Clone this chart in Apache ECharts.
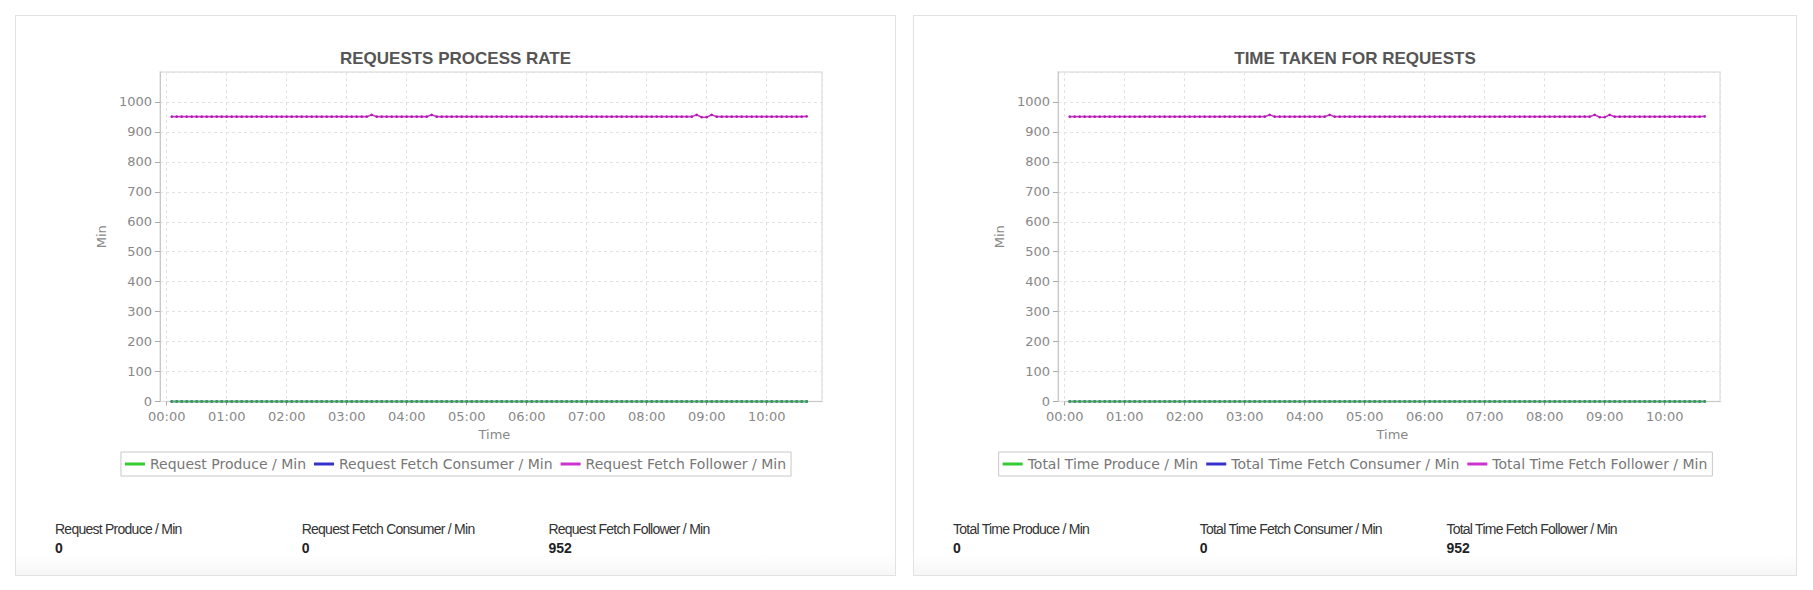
<!DOCTYPE html>
<html>
<head>
<meta charset="utf-8">
<script src="https://cdn.jsdelivr.net/npm/echarts@6.0.0/dist/echarts.min.js"></script>
<style>
  html, body { margin: 0; padding: 0; background: #ffffff; width: 1813px; height: 590px; overflow: hidden; }
  .panel { position: absolute; box-sizing: border-box; border: 1px solid #e2e2e2;
           background: linear-gradient(to bottom, #ffffff 0px, #ffffff 538px, #f6f6f6 559px); }
  .chart { position: absolute; }
  .stat { position: absolute; font-family: "Liberation Sans", Arial, sans-serif; font-size: 14px;
          line-height: 16px; letter-spacing: -0.75px; color: #333; white-space: nowrap; }
  .stat b { display: block; margin-top: 3px; color: #222; letter-spacing: 0; }
</style>
</head>
<body>
<div class="panel" style="left:15px;top:15px;width:881px;height:561px;"></div>
<div class="panel" style="left:913px;top:15px;width:884px;height:561px;"></div>
<div id="c1" class="chart" style="left:15px;top:15px;width:881px;height:490px;"></div>
<div id="c2" class="chart" style="left:913px;top:15px;width:884px;height:490px;"></div>
<div id="s1"></div>
<div id="s2"></div>
<script>
// ---- time stamps (x) ----
const timeLabels = [
  "00:05","00:10","00:15","00:20","00:25","00:30","00:35","00:40","00:45","00:50","00:55",
  "01:00","01:05","01:10","01:15","01:20","01:25","01:30","01:35","01:40","01:45","01:50","01:55",
  "02:00","02:05","02:10","02:15","02:20","02:25","02:30","02:35","02:40","02:45","02:50","02:55",
  "03:00","03:05","03:10","03:15","03:20","03:25","03:30","03:35","03:40","03:45","03:50","03:55",
  "04:00","04:05","04:10","04:15","04:20","04:25","04:30","04:35","04:40","04:45","04:50","04:55",
  "05:00","05:05","05:10","05:15","05:20","05:25","05:30","05:35","05:40","05:45","05:50","05:55",
  "06:00","06:05","06:10","06:15","06:20","06:25","06:30","06:35","06:40","06:45","06:50","06:55",
  "07:00","07:05","07:10","07:15","07:20","07:25","07:30","07:35","07:40","07:45","07:50","07:55",
  "08:00","08:05","08:10","08:15","08:20","08:25","08:30","08:35","08:40","08:45","08:50","08:55",
  "09:00","09:05","09:10","09:15","09:20","09:25","09:30","09:35","09:40","09:45","09:50","09:55",
  "10:00","10:05","10:10","10:15","10:20","10:25","10:30","10:35","10:40"
];

// ---- chart 1: Requests process rate ----
const requestProducePerMin = [
  0,0,0,0,0,0,0,0,0,0,0,0,0,0,0,0,
  0,0,0,0,0,0,0,0,0,0,0,0,0,0,0,0,
  0,0,0,0,0,0,0,0,0,0,0,0,0,0,0,0,
  0,0,0,0,0,0,0,0,0,0,0,0,0,0,0,0,
  0,0,0,0,0,0,0,0,0,0,0,0,0,0,0,0,
  0,0,0,0,0,0,0,0,0,0,0,0,0,0,0,0,
  0,0,0,0,0,0,0,0,0,0,0,0,0,0,0,0,
  0,0,0,0,0,0,0,0,0,0,0,0,0,0,0,0
];
const requestFetchConsumerPerMin = [
  0,0,0,0,0,0,0,0,0,0,0,0,0,0,0,0,
  0,0,0,0,0,0,0,0,0,0,0,0,0,0,0,0,
  0,0,0,0,0,0,0,0,0,0,0,0,0,0,0,0,
  0,0,0,0,0,0,0,0,0,0,0,0,0,0,0,0,
  0,0,0,0,0,0,0,0,0,0,0,0,0,0,0,0,
  0,0,0,0,0,0,0,0,0,0,0,0,0,0,0,0,
  0,0,0,0,0,0,0,0,0,0,0,0,0,0,0,0,
  0,0,0,0,0,0,0,0,0,0,0,0,0,0,0,0
];
const requestFetchFollowerPerMin = [
  951,951,951,951,951,951,951,951,951,951,951,951,951,951,951,951,
  951,951,951,951,951,951,951,951,951,951,951,951,951,951,951,951,
  951,951,951,951,951,951,951,951,957,951,951,951,951,951,951,951,
  951,951,951,951,957,951,951,951,951,951,951,951,951,951,951,951,
  951,951,951,951,951,951,951,951,951,951,951,951,951,951,951,951,
  951,951,951,951,951,951,951,951,951,951,951,951,951,951,951,951,
  951,951,951,951,951,951,951,951,951,957,949,949,957,951,951,951,
  951,951,951,951,951,951,951,951,951,951,951,951,951,951,951,952
];

// ---- chart 2: Time taken for requests ----
const totalTimeProducePerMin = [
  0,0,0,0,0,0,0,0,0,0,0,0,0,0,0,0,
  0,0,0,0,0,0,0,0,0,0,0,0,0,0,0,0,
  0,0,0,0,0,0,0,0,0,0,0,0,0,0,0,0,
  0,0,0,0,0,0,0,0,0,0,0,0,0,0,0,0,
  0,0,0,0,0,0,0,0,0,0,0,0,0,0,0,0,
  0,0,0,0,0,0,0,0,0,0,0,0,0,0,0,0,
  0,0,0,0,0,0,0,0,0,0,0,0,0,0,0,0,
  0,0,0,0,0,0,0,0,0,0,0,0,0,0,0,0
];
const totalTimeFetchConsumerPerMin = [
  0,0,0,0,0,0,0,0,0,0,0,0,0,0,0,0,
  0,0,0,0,0,0,0,0,0,0,0,0,0,0,0,0,
  0,0,0,0,0,0,0,0,0,0,0,0,0,0,0,0,
  0,0,0,0,0,0,0,0,0,0,0,0,0,0,0,0,
  0,0,0,0,0,0,0,0,0,0,0,0,0,0,0,0,
  0,0,0,0,0,0,0,0,0,0,0,0,0,0,0,0,
  0,0,0,0,0,0,0,0,0,0,0,0,0,0,0,0,
  0,0,0,0,0,0,0,0,0,0,0,0,0,0,0,0
];
const totalTimeFetchFollowerPerMin = [
  951,951,951,951,951,951,951,951,951,951,951,951,951,951,951,951,
  951,951,951,951,951,951,951,951,951,951,951,951,951,951,951,951,
  951,951,951,951,951,951,951,951,957,951,951,951,951,951,951,951,
  951,951,951,951,957,951,951,951,951,951,951,951,951,951,951,951,
  951,951,951,951,951,951,951,951,951,951,951,951,951,951,951,951,
  951,951,951,951,951,951,951,951,951,951,951,951,951,951,951,951,
  951,951,951,951,951,951,951,951,951,957,949,949,957,951,951,951,
  951,951,951,951,951,951,951,951,951,951,951,951,951,951,951,952
];

// ---- axis settings ----
const yAxisMax = 1100;
const yAxisStep = 100;
const xAxisEndMinutes = 655.5;   // plot extends a little past the last sample
const xAxisStepMinutes = 60;

const seriesColors = ['#33cc33', '#3333cc', '#cc33cc'];
const lineColors = ['#48b855', '#3f3fc0', '#cc33cc'];
const dotColors = ['#3c9e55', '#2f2fa8', '#b01cb0'];

function toMinutes(t) { const p = t.split(':'); return (+p[0]) * 60 + (+p[1]); }
function fmtMinutes(v) {
  const h = Math.floor(v / 60), m = Math.round(v % 60);
  return String(h).padStart(2, '0') + ':' + String(m).padStart(2, '0');
}
const xMinutes = timeLabels.map(toMinutes);

const AXIS_FONT = { fontFamily: 'DejaVu Sans', fontSize: 13, color: '#888' };

function buildOption(title, names, arrays) {
  const series = names.map((n, i) => ({
    name: n,
    type: 'line',
    xAxisIndex: 1,
    yAxisIndex: 1,
    data: xMinutes.map((x, k) => ({ value: [x, arrays[i][k]], itemStyle: { color: dotColors[i] } })),
    symbol: 'circle',
    symbolSize: 2.6,
    showSymbol: true,
    itemStyle: { color: seriesColors[i] },
    lineStyle: { color: lineColors[i], width: 1.6 },
    z: i === 0 ? 4 : (i === 1 ? 3 : 5),
    emphasis: { disabled: true },
    animation: false,
    silent: true,
    clip: false
  }));
  return {
    animation: false,
    title: {
      text: title, left: 'center', top: 30,
      textStyle: { fontFamily: 'Liberation Sans', fontWeight: 'bold', fontSize: 17, color: '#555' }
    },
    legend: {
      data: names.map((n, i) => ({ name: n, itemStyle: { color: seriesColors[i] } })),
      left: 'center', top: 437,
      orient: 'horizontal',
      borderColor: '#c8c8c8', borderWidth: 1,
      padding: [5, 5, 5, 4],
      itemGap: 8, itemWidth: 20, itemHeight: 3,
      icon: 'rect',
      selectedMode: false,
      textStyle: { fontFamily: 'DejaVu Sans', fontSize: 14, color: '#777' }
    },
    grid: [
      { left: 145, top: 57, width: 662, height: 329.5, show: true, borderColor: '#e4e4e4', borderWidth: 1.5, containLabel: false },
      { left: 151.7, top: 57, width: 655.5, height: 329.5, containLabel: false }
    ],
    xAxis: [
      { gridIndex: 0, type: 'value', min: 0, max: 1, show: false },
      {
        gridIndex: 1, type: 'value', min: 0, max: xAxisEndMinutes, interval: xAxisStepMinutes,
        name: 'Time', nameLocation: 'middle', nameGap: 26,
        nameTextStyle: AXIS_FONT,
        axisLine: { show: true, lineStyle: { color: '#c8c8c8', width: 1 } },
        axisTick: { show: true, length: 4, lineStyle: { color: '#aaa' } },
        axisLabel: Object.assign({ margin: 8, showMaxLabel: false, formatter: fmtMinutes }, AXIS_FONT),
        splitLine: { show: true, lineStyle: { color: '#e2e2e2', type: [3, 3], width: 1 } }
      }
    ],
    yAxis: [
      {
        gridIndex: 0, type: 'value', min: 0, max: yAxisMax, interval: yAxisStep,
        name: 'Min', nameLocation: 'middle', nameGap: 50, nameRotate: 90,
        nameTextStyle: AXIS_FONT,
        axisLine: { show: true, lineStyle: { color: '#c8c8c8', width: 1 } },
        axisTick: { show: true, length: 5, lineStyle: { color: '#aaa' } },
        axisLabel: Object.assign({ margin: 8, showMaxLabel: false, formatter: v => String(v) }, AXIS_FONT),
        splitLine: { show: true, lineStyle: { color: '#e2e2e2', type: [3, 3], width: 1 } }
      },
      { gridIndex: 1, type: 'value', min: 0, max: yAxisMax, show: false, splitLine: { show: false } }
    ],
    series: series
  };
}

const chart1Names = ['Request Produce / Min', 'Request Fetch Consumer / Min', 'Request Fetch Follower / Min'];
const chart2Names = ['Total Time Produce / Min', 'Total Time Fetch Consumer / Min', 'Total Time Fetch Follower / Min'];
const chart1Data = [requestProducePerMin, requestFetchConsumerPerMin, requestFetchFollowerPerMin];
const chart2Data = [totalTimeProducePerMin, totalTimeFetchConsumerPerMin, totalTimeFetchFollowerPerMin];

const c1 = echarts.init(document.getElementById('c1'), null, { renderer: 'svg' });
c1.setOption(buildOption('REQUESTS PROCESS RATE', chart1Names, chart1Data));
const c2 = echarts.init(document.getElementById('c2'), null, { renderer: 'svg' });
c2.setOption(buildOption('TIME TAKEN FOR REQUESTS', chart2Names, chart2Data));

// ---- summary (latest value) rows ----
function buildStats(containerId, panelLeft, names, arrays) {
  const box = document.getElementById(containerId);
  const colOffsets = [40, 286.7, 533.4];
  names.forEach((n, i) => {
    const d = document.createElement('div');
    d.className = 'stat';
    d.style.left = (panelLeft + colOffsets[i]) + 'px';
    d.style.top = '521px';
    const arr = arrays[i];
    d.textContent = n;
    const b = document.createElement('b');
    b.textContent = String(arr[arr.length - 1]);
    d.appendChild(b);
    box.appendChild(d);
  });
}
buildStats('s1', 15, chart1Names, chart1Data);
buildStats('s2', 913, chart2Names, chart2Data);
</script>
</body>
</html>
